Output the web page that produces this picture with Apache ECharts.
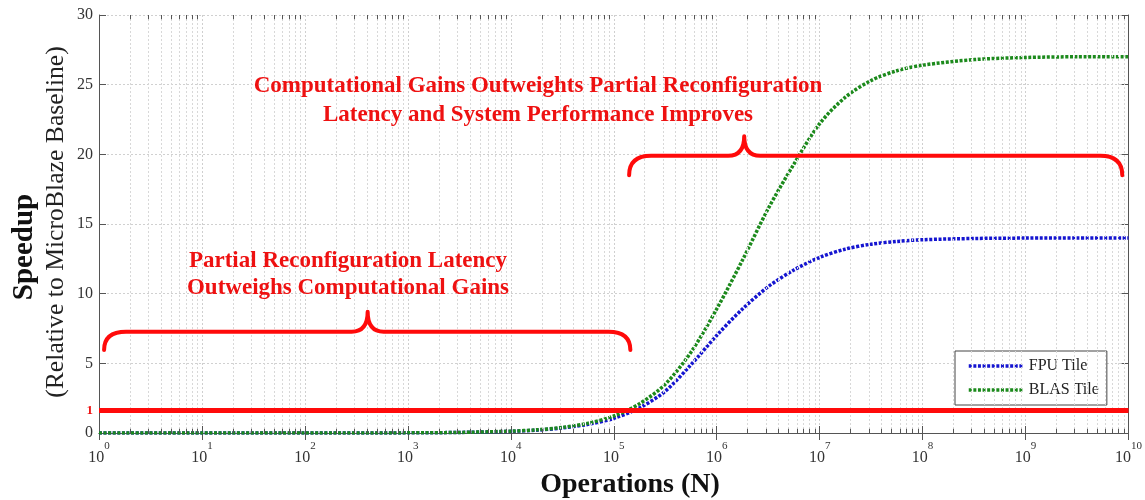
<!DOCTYPE html>
<html>
<head>
<meta charset="utf-8">
<script src="https://cdn.jsdelivr.net/npm/echarts@6/dist/echarts.min.js"></script>
<style>html,body{margin:0;padding:0;background:#fff;}#c{width:1145px;height:500px;}</style>
</head>
<body>
<div id="c"></div>
<script>
// ---- data ----
var exponents = [0, 1, 2, 3, 3.5, 4, 4.25, 4.5, 4.75, 5, 5.25, 5.5, 5.75, 6, 6.25, 6.5, 6.75, 7, 7.25, 7.5, 7.75, 8, 8.5, 9, 9.5, 10];
var fpuTile  = [0, 0, 0, 0.01, 0.04, 0.12, 0.2, 0.36, 0.62, 1.05, 1.8, 3.0, 4.9, 7.0, 8.9, 10.5, 11.7, 12.6, 13.2, 13.55, 13.75, 13.87, 13.96, 13.99, 14.0, 14.0];
var blasTile = [0, 0, 0, 0.01, 0.04, 0.13, 0.23, 0.4, 0.7, 1.22, 2.1, 3.5, 5.8, 8.9, 12.4, 16.1, 19.3, 22.2, 24.1, 25.3, 26.0, 26.4, 26.8, 26.95, 27.0, 27.0];
var seriesNames = ['FPU Tile', 'BLAS Tile'];
var decades = [0, 1, 2, 3, 4, 5, 6, 7, 8, 9];
var minorSteps = [2, 3, 4, 5, 6, 7, 8, 9];
var yTicks = [0, 5, 10, 15, 20, 25, 30];
var baselineLevel = [1.6];          // where the red "1" baseline is drawn
var baselineLabel = ['1'];
// braces: start N, end N, tip N, level, end height, tip height
var braceStart = [1.12, 1.41e5];
var braceEnd   = [1.45e5, 8.7e9];
var braceTip   = [407, 1.85e6];
var braceLevel = [7.27, 19.9];
var braceLow   = [5.96, 18.5];
var braceHigh  = [8.7, 21.3];
var notes = [
  ['Computational Gains Outweights Partial Reconfiguration', 'Latency and System Performance Improves'],
  ['Partial Reconfiguration Latency', 'Outweighs Computational Gains']
];
var xTitle = 'Operations (N)';
var yTitle = ['Speedup', '(Relative to MicroBlaze Baseline)'];

function pairs(vals) {
  return exponents.map(function (e, i) { return [Math.pow(10, e), vals[i]]; });
}
var braceData = braceStart.map(function (s, i) {
  return [s, braceEnd[i], braceTip[i], braceLevel[i], braceLow[i], braceHigh[i]];
});

// minor log grid lines and minor ticks (positions given in data space)
var minorValues = [];
decades.forEach(function (d) {
  minorSteps.forEach(function (m) { minorValues.push(m * Math.pow(10, d)); });
});
var gridMarks = [];
minorValues.forEach(function (v) {
  gridMarks.push({ xAxis: v, lineStyle: { color: '#d8d8d8', width: 1, type: [2, 2] } });
  gridMarks.push([{ coord: [v, 0], lineStyle: { color: '#555', width: 1, type: 'solid' } }, { coord: [v, 0.3] }]);
  gridMarks.push([{ coord: [v, 30], lineStyle: { color: '#555', width: 1, type: 'solid' } }, { coord: [v, 29.7] }]);
});

var serif = '"Liberation Serif", "Times New Roman", serif';
var chart = echarts.init(document.getElementById('c'));

var xCommon = {
  type: 'log', logBase: 10, min: 1, max: 1e10, interval: 1,
  axisLine: { show: true, lineStyle: { color: '#555', width: 1 } },
  axisTick: { show: true, inside: true, length: 7, lineStyle: { color: '#555' } },
  minorTick: { show: false }
};

var redFont = 'bold 23px ' + serif;
var option = {
  animation: false,
  backgroundColor: '#fff',
  grid: { left: 99, right: 15, top: 15, bottom: 67, containLabel: false },
  xAxis: [
    Object.assign({}, xCommon, {
      position: 'bottom',
      axisLabel: {
        margin: 8,
        formatter: function (v) { return '{b|10}{s|' + Math.round(Math.log10(v)) + '}'; },
        rich: {
          b: { fontFamily: serif, fontSize: 16, color: '#333', verticalAlign: 'bottom', lineHeight: 25 },
          s: { fontFamily: serif, fontSize: 11, color: '#333', verticalAlign: 'top', lineHeight: 14 }
        }
      },
      splitLine: { show: true, lineStyle: { color: '#cfcfcf', type: [2, 2], width: 1 } }
    }),
    Object.assign({}, xCommon, {
      position: 'top',
      axisLabel: { show: false },
      splitLine: { show: false }
    })
  ],
  yAxis: [
    {
      type: 'value', min: 0, max: 30, interval: 5, position: 'left',
      axisLine: { show: true, lineStyle: { color: '#555' } },
      axisTick: { show: true, inside: true, length: 7, lineStyle: { color: '#555' } },
      axisLabel: {
        margin: 6, fontFamily: serif, fontSize: 16, color: '#333',
        formatter: function (v) { return yTicks.indexOf(v) >= 0 ? String(v) : ''; }
      },
      splitLine: { show: true, lineStyle: { color: '#d0d0d0', type: [2, 2] } }
    },
    {
      type: 'value', min: 0, max: 30, interval: 5, position: 'right',
      axisLine: { show: true, lineStyle: { color: '#555' } },
      axisTick: { show: true, inside: true, length: 7, lineStyle: { color: '#555' } },
      axisLabel: { show: false },
      splitLine: { show: false }
    }
  ],
  legend: {
    data: seriesNames,
    orient: 'vertical', left: 955, top: 351,
    padding: [7, 8, 7, 12], itemGap: 8, itemWidth: 55, itemHeight: 12,
    itemStyle: { opacity: 0 },
    lineStyle: { width: 3.5 },
    backgroundColor: '#fff', borderColor: '#444', borderWidth: 1, borderRadius: 0,
    textStyle: { fontFamily: serif, fontSize: 16, color: '#222' }
  },
  graphic: [
    { type: 'text', x: 538, y: 86, z: 10, style: { text: notes[0][0], fill: '#ee1111', font: redFont, align: 'center', verticalAlign: 'middle' } },
    { type: 'text', x: 538, y: 115, z: 10, style: { text: notes[0][1], fill: '#ee1111', font: redFont, align: 'center', verticalAlign: 'middle' } },
    { type: 'text', x: 348, y: 261, z: 10, style: { text: notes[1][0], fill: '#ee1111', font: redFont, align: 'center', verticalAlign: 'middle' } },
    { type: 'text', x: 348, y: 288, z: 10, style: { text: notes[1][1], fill: '#ee1111', font: redFont, align: 'center', verticalAlign: 'middle' } },
    { type: 'text', x: 630, y: 485, style: { text: xTitle, fill: '#111', font: 'bold 28px ' + serif, align: 'center', verticalAlign: 'middle' } },
    { type: 'text', x: 25, y: 247, rotation: Math.PI / 2, style: { text: yTitle[0], fill: '#111', font: 'bold 29px ' + serif, align: 'center', verticalAlign: 'middle' } },
    { type: 'text', x: 56, y: 222, rotation: Math.PI / 2, style: { text: yTitle[1], fill: '#222', font: '25.7px ' + serif, align: 'center', verticalAlign: 'middle' } }
  ],
  series: [
    {
      name: 'grid-minor', type: 'line', xAxisIndex: 0, yAxisIndex: 0,
      data: [], silent: true, z: 1,
      markLine: { silent: true, symbol: 'none', label: { show: false }, animation: false, data: gridMarks }
    },
    {
      name: seriesNames[0], type: 'line', xAxisIndex: 0, yAxisIndex: 0,
      data: pairs(fpuTile), symbol: 'none', smooth: 0.3,
      lineStyle: { color: '#1515d0', width: 3.5, type: [3, 1.6] },
      itemStyle: { color: '#1515d0' },
      z: 3
    },
    {
      name: seriesNames[1], type: 'line', xAxisIndex: 0, yAxisIndex: 0,
      data: pairs(blasTile), symbol: 'none', smooth: 0.3,
      lineStyle: { color: '#1c8a1c', width: 3.5, type: [3, 1.6] },
      itemStyle: { color: '#1c8a1c' },
      z: 4,
      markLine: {
        silent: true, symbol: 'none',
        lineStyle: { color: '#ff0a0a', width: 5, type: 'solid' },
        label: { show: true, position: 'start', distance: 6, formatter: baselineLabel[0], color: '#ee1111', fontFamily: serif, fontWeight: 'bold', fontSize: 13 },
        data: [{ yAxis: baselineLevel[0] }]
      }
    },
    {
      name: 'braces', type: 'custom', xAxisIndex: 0, yAxisIndex: 0,
      data: braceData, silent: true, z: 5,
      encode: { x: [0, 1, 2], y: [3, 4, 5] },
      renderItem: function (params, api) {
        var s = api.coord([api.value(0), api.value(3)]);
        var e = api.coord([api.value(1), api.value(3)]);
        var t = api.coord([api.value(2), api.value(5)]);
        var low = api.coord([api.value(0), api.value(4)])[1];
        var lev = s[1];
        var r = 22, w = 16;
        var d = 'M' + s[0] + ' ' + low +
          ' Q' + s[0] + ' ' + lev + ' ' + (s[0] + r) + ' ' + lev +
          ' L' + (t[0] - w) + ' ' + lev +
          ' Q' + t[0] + ' ' + lev + ' ' + t[0] + ' ' + t[1] +
          ' Q' + t[0] + ' ' + lev + ' ' + (t[0] + w) + ' ' + lev +
          ' L' + (e[0] - r) + ' ' + lev +
          ' Q' + e[0] + ' ' + lev + ' ' + e[0] + ' ' + low;
        return {
          type: 'path',
          shape: { pathData: d },
          style: { stroke: '#ff0a0a', lineWidth: 4, fill: null, lineCap: 'round', lineJoin: 'round' }
        };
      }
    }
  ]
};
chart.setOption(option);
</script>
</body>
</html>
